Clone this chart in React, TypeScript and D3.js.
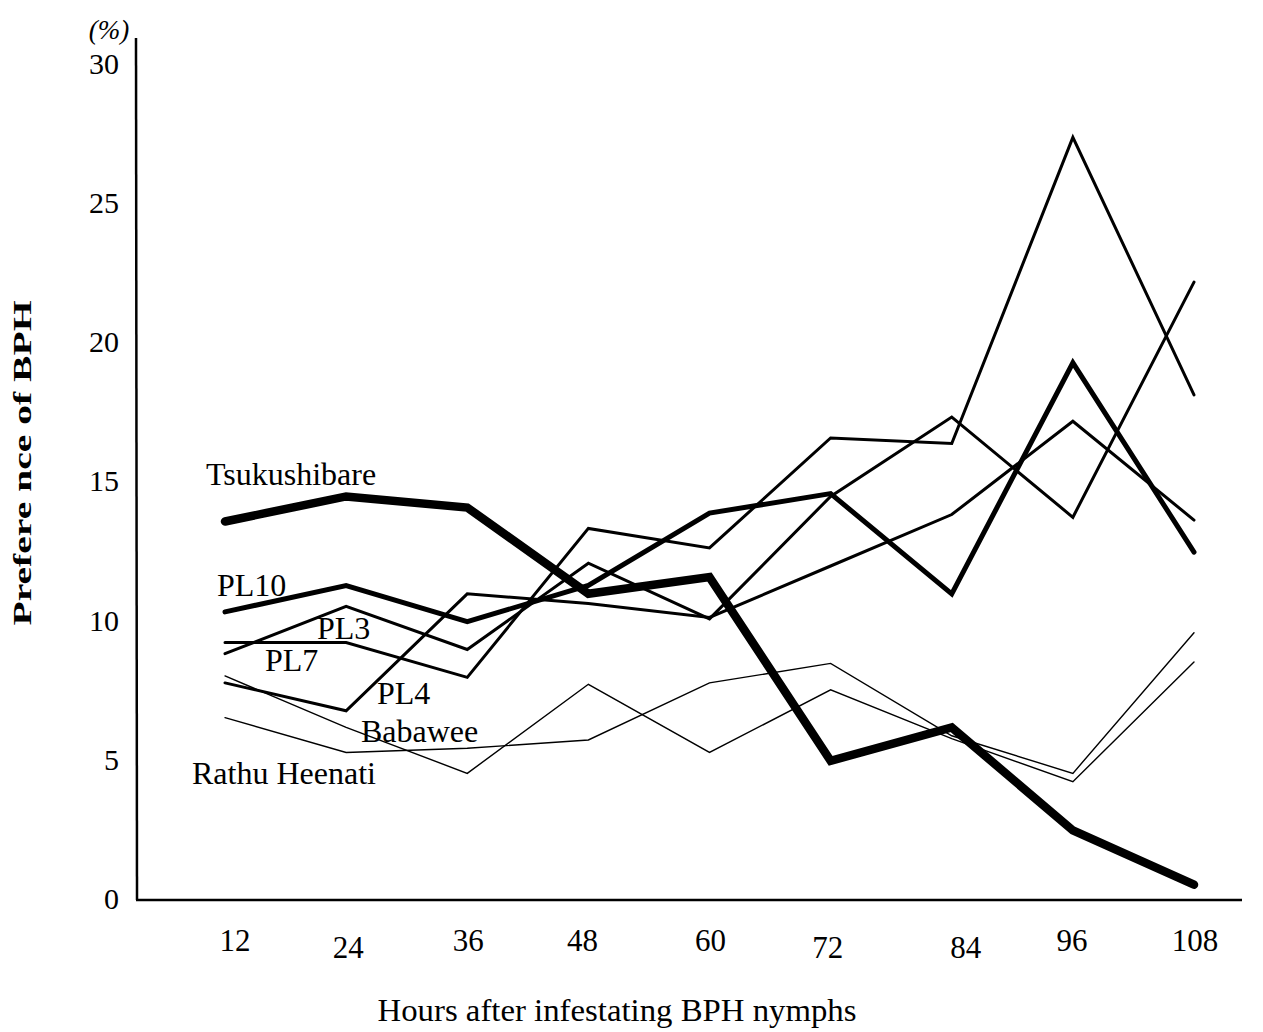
import React from "react";
import * as d3 from "d3";

const hours = [12, 24, 36, 48, 60, 72, 84, 96, 108];
const tsukushibare = [13.6, 14.5, 14.1, 11.0, 11.6, 5.0, 6.2, 2.5, 0.55];
const pl10 = [10.35, 11.3, 10.0, 11.3, 13.9, 14.6, 11.0, 19.3, 12.5];
const pl3 = [8.85, 10.55, 9.0, 12.1, 10.1, 14.5, 17.35, 13.75, 22.2];
const pl7 = [9.25, 9.25, 8.0, 13.35, 12.65, 16.6, 16.4, 27.4, 18.15];
const pl4 = [7.8, 6.8, 11.0, 10.65, 10.15, 12.0, 13.85, 17.2, 13.65];
const babawee = [8.05, 6.2, 4.55, 7.75, 5.3, 7.55, 5.8, 4.25, 8.55];
const rathuHeenati = [6.55, 5.3, 5.45, 5.75, 7.8, 8.5, 5.9, 4.55, 9.6];
const yTicks = [0, 5, 10, 15, 20, 25, 30];

const seriesNames = ["Tsukushibare", "PL10", "PL3", "PL7", "PL4", "Babawee", "Rathu Heenati"];
const seriesValues = [tsukushibare, pl10, pl3, pl7, pl4, babawee, rathuHeenati];

// styles
const strokeWidths = [8.5, 5, 3, 3, 3, 1.4, 1.4];
const labelPos: [number, number][] = [
  [206, 485],
  [217, 596],
  [317, 639],
  [265, 671],
  [377, 704],
  [361, 742],
  [192, 784],
];
const xLabelDx = [10, 2, 1, -6, 1, -3, 14, -1, 1];
const xLabelDy = [0, 7, 0, 0, 0, 7, 7, 0, 0];

const FONT = "'Liberation Serif', 'Times New Roman', serif";

export default function App() {
  const x = d3.scaleLinear().domain([12, 108]).range([225, 1194]);
  const y = d3.scaleLinear().domain([0, 30]).range([900, 65]);
  const line = d3
    .line<number>()
    .x((_, i) => x(hours[i]))
    .y((d) => y(d))
    .curve(d3.curveLinear);

  return (
    <svg
      width={1263}
      height={1032}
      style={{ position: "absolute", left: 0, top: 0, background: "#fff" }}
      fontFamily={FONT}
    >
      <rect width={1263} height={1032} fill="#fff" />
      {/* axes */}
      <line x1={136} y1={38} x2={137} y2={900} stroke="#000" strokeWidth={2.5} />
      <line x1={136} y1={900} x2={1242} y2={900} stroke="#000" strokeWidth={2.5} />
      {yTicks.map((t) => (
        <text key={t} x={119} y={y(t) + 2} fontSize={30} textAnchor="end" dominantBaseline="middle" fill="#000">
          {t}
        </text>
      ))}
      <text x={109} y={39} fontSize={27} textAnchor="middle" fontStyle="italic" fill="#000">
        (%)
      </text>
      {hours.map((h, i) => (
        <text
          key={h}
          x={x(h) + xLabelDx[i]}
          y={951 + xLabelDy[i]}
          fontSize={31}
          textAnchor="middle"
          fill="#000"
        >
          {h}
        </text>
      ))}
      <text x={617} y={1021} fontSize={32} textAnchor="middle" fill="#000" textLength={479} lengthAdjust="spacingAndGlyphs">
        Hours after infestating BPH nymphs
      </text>
      <text
        transform="translate(31,463) rotate(-90)"
        fontSize={26}
        fontWeight="bold"
        textAnchor="middle"
        textLength={325}
        lengthAdjust="spacingAndGlyphs"
        fill="#000"
      >
        Prefere nce of BPH
      </text>
      {/* series */}
      {seriesValues.map((vals, i) => (
        <path
          key={seriesNames[i]}
          d={line(vals) || ""}
          fill="none"
          stroke="#000"
          strokeWidth={strokeWidths[i]}
          strokeLinejoin="miter"
          strokeLinecap="round"
        />
      ))}
      {seriesNames.map((n, i) => (
        <text key={n} x={labelPos[i][0]} y={labelPos[i][1]} fontSize={32} fill="#000">
          {n}
        </text>
      ))}
    </svg>
  );
}
